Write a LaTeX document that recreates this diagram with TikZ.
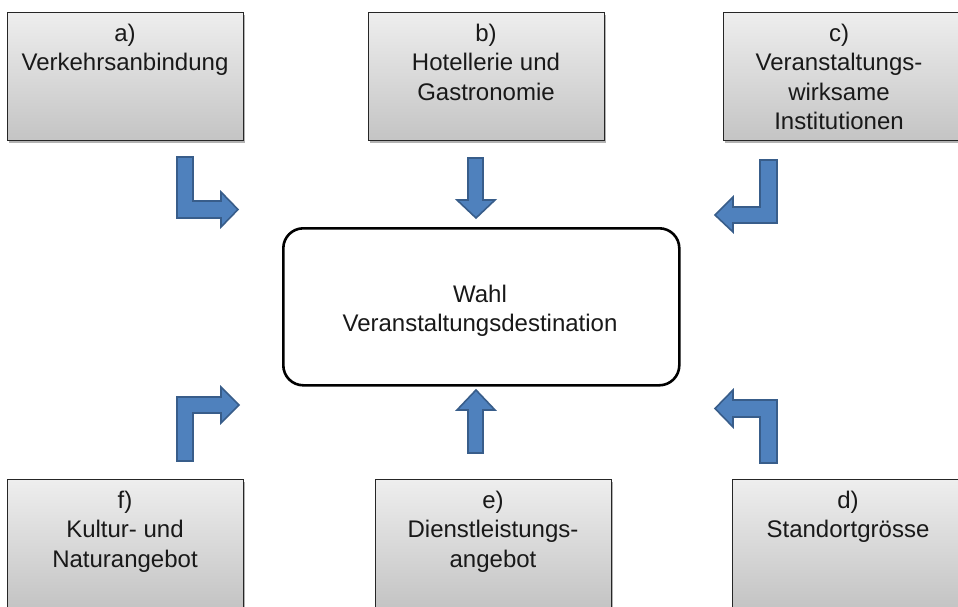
\documentclass[tikz,border=0pt]{standalone}
\usepackage{fontspec}
\setmainfont{Liberation Sans}
\usetikzlibrary{shadows}
\definecolor{arrowfill}{HTML}{4F81BD}
\definecolor{arrowline}{HTML}{385D8A}
\definecolor{boxtop}{HTML}{EEEEEE}
\definecolor{boxbot}{HTML}{C4C4C4}
\newcommand\boxtext[2][234pt]{\parbox[t]{#1}{\centering #2}}
\tikzset{
  graybox/.style={draw=black!85, line width=1.2pt, top color=boxtop, bottom color=boxbot,
    minimum width=236pt, minimum height=128pt, anchor=north west, inner sep=0pt,
    drop shadow={shadow xshift=1.5pt, shadow yshift=-2.5pt, fill=black, opacity=0.3}},
  mainbox/.style={draw=black, line width=2.6pt, rounded corners=20pt, fill=white,
    minimum width=396pt, minimum height=157pt, anchor=north west, inner sep=0pt},
  lbl/.style={anchor=base, inner sep=0pt, font=\fontsize{24}{29.5}\selectfont, text=black!90},
  blockarrow/.style={fill=arrowfill, draw=arrowline, line width=1.6pt, line join=miter}
}
\begin{document}
\begin{tikzpicture}[x=1pt,y=-1pt]
\useasboundingbox (0,0) rectangle (958,606);
\clip (0,0) rectangle (958,606);
\fill[white] (0,0) rectangle (958,606);
% top boxes
\node[graybox] (boxa) at (7,12) {};
\node[graybox] (boxb) at (368,12) {};
\node[graybox] (boxc) at (723,12) {};
% bottom boxes
\node[graybox] (boxf) at (7,479) {};
\node[graybox] (boxe) at (375,479) {};
\node[graybox] (boxd) at (732,479) {};
% main box
\node[mainbox] (main) at (282,227) {};
% labels
\node[lbl] (ta) at (125,41) {\boxtext{a)\\Verkehrsanbindung}};
\node[lbl] (tb) at (486,41) {\boxtext{b)\\Hotellerie und\\Gastronomie}};
\node[lbl] (tc) at (839,41) {\boxtext{c)\\Veranstaltungs-\\wirksame\\Institutionen}};
\node[lbl] (tf) at (125,508) {\boxtext{f)\\Kultur- und\\Naturangebot}};
\node[lbl] (te) at (493,508) {\boxtext{e)\\Dienstleistungs-\\angebot}};
\node[lbl] (td) at (848,508) {\boxtext{d)\\Standortgrösse}};
\node[lbl] (tm) at (480,302) {\boxtext[380pt]{Wahl\\Veranstaltungsdestination}};
% block arrows
\draw[blockarrow] (177,157) -- (193,157) -- (193,201) -- (221,201) -- (221,192)
  -- (238,209.5) -- (221,227) -- (221,218) -- (177,218) -- cycle;
\draw[blockarrow] (468,158) -- (483,158) -- (483,200) -- (495,200) -- (476,218)
  -- (457,200) -- (468,200) -- cycle;
\draw[blockarrow] (760,160) -- (777,160) -- (777,223) -- (733,223) -- (733,232)
  -- (715,215) -- (733,197) -- (733,207) -- (760,207) -- cycle;
\draw[blockarrow] (177,461) -- (177,397) -- (221,397) -- (221,387) -- (239,405)
  -- (221,423) -- (221,413) -- (193,413) -- (193,461) -- cycle;
\draw[blockarrow] (468,453) -- (468,410) -- (457,410) -- (476,390) -- (495,410)
  -- (483,410) -- (483,453) -- cycle;
\draw[blockarrow] (777,463) -- (777,400) -- (733,400) -- (733,390) -- (715,408.5)
  -- (733,427) -- (733,417) -- (760,417) -- (760,463) -- cycle;
\end{tikzpicture}
\end{document}
